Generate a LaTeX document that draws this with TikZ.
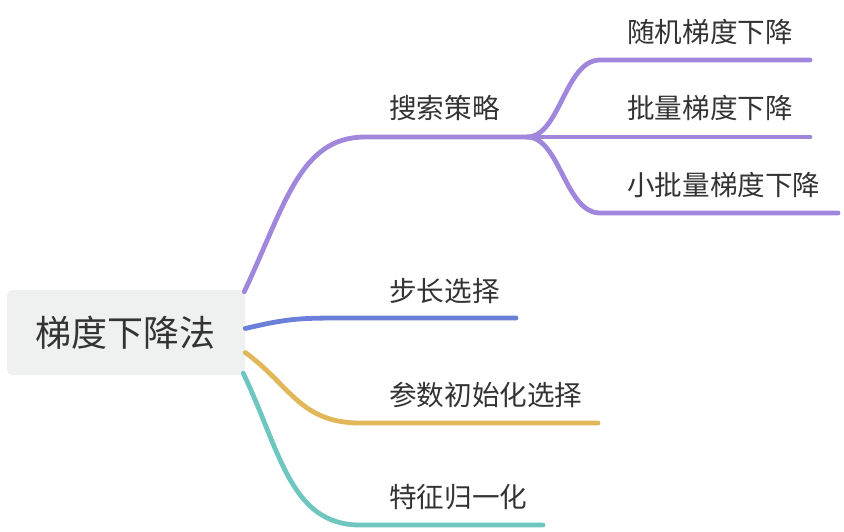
\documentclass[tikz,border=0pt]{standalone}
\usepackage{fontspec}
\setmainfont{Noto Sans CJK SC}
\usetikzlibrary{positioning}

\definecolor{rootfill}{HTML}{EFF0F0}
\definecolor{txt}{HTML}{333333}
\definecolor{cpurple}{HTML}{A087DC}
\definecolor{cblue}{HTML}{6C7FD8}
\definecolor{cyellow}{HTML}{E1B75A}
\definecolor{cteal}{HTML}{6FC6BF}

\tikzset{
	rootbox/.style={fill=rootfill, rounded corners=4pt, minimum width=178.5pt, minimum height=63.75pt, text=txt, font=\fontsize{27}{27}\selectfont},
	label/.style={anchor=west, text=txt, inner sep=0pt, font=\fontsize{20.7}{20.7}\selectfont},
	branch/.style={line width=3.6pt, line cap=round}
}

\begin{document}
\begin{tikzpicture}[x=0.75pt, y=-0.75pt]
\useasboundingbox (0,0) rectangle (844,532);

\node[rootbox] (root) at (126,332.5) {梯度下降法};

% first level
\node[label] (search) at (389,108) {搜索策略};
\node[label] (step)   at (389,291) {步长选择};
\node[label] (init)   at (389,395) {参数初始化选择};
\node[label] (norm)   at (389,497) {特征归一化};

% second level
\node[label] (sgd)  at (627,32)  {随机梯度下降};
\node[label] (bgd)  at (627,108) {批量梯度下降};
\node[label] (mbgd) at (627,185) {小批量梯度下降};

\coordinate (search-l) at (365,137);
\coordinate (search-r) at (527,137);
\coordinate (step-r) at (516,318);
\coordinate (init-r) at (598,423);
\coordinate (norm-r) at (543,525);
\coordinate (sgd-l) at (600,60);
\coordinate (sgd-r) at (810,60);
\coordinate (bgd-r) at (810,137);
\coordinate (mbgd-l) at (600,213);
\coordinate (mbgd-r) at (838,213);

\draw[branch, cpurple] (root.north east)++(-1,2) .. controls (285,205) and (300,137) .. (search-l) -- (search-r);
\draw[branch, cpurple] (search-r) .. controls (560,137) and (565,60) .. (sgd-l) -- (sgd-r);
\draw[branch, cpurple] (search-r) -- (bgd-r);
\draw[branch, cpurple] (search-r) .. controls (560,137) and (565,213) .. (mbgd-l) -- (mbgd-r);

\draw[branch, cblue] (root.east)++(0,-4) .. controls (290,318) and (300,318) .. (350,318) -- (step-r);
\draw[branch, cyellow] (root.east)++(0,20) .. controls (290,385) and (300,423) .. (360,423) -- (init-r);
\draw[branch, cteal] (root.south east)++(-2,-2) .. controls (280,450) and (290,525) .. (360,525) -- (norm-r);
\end{tikzpicture}
\end{document}
